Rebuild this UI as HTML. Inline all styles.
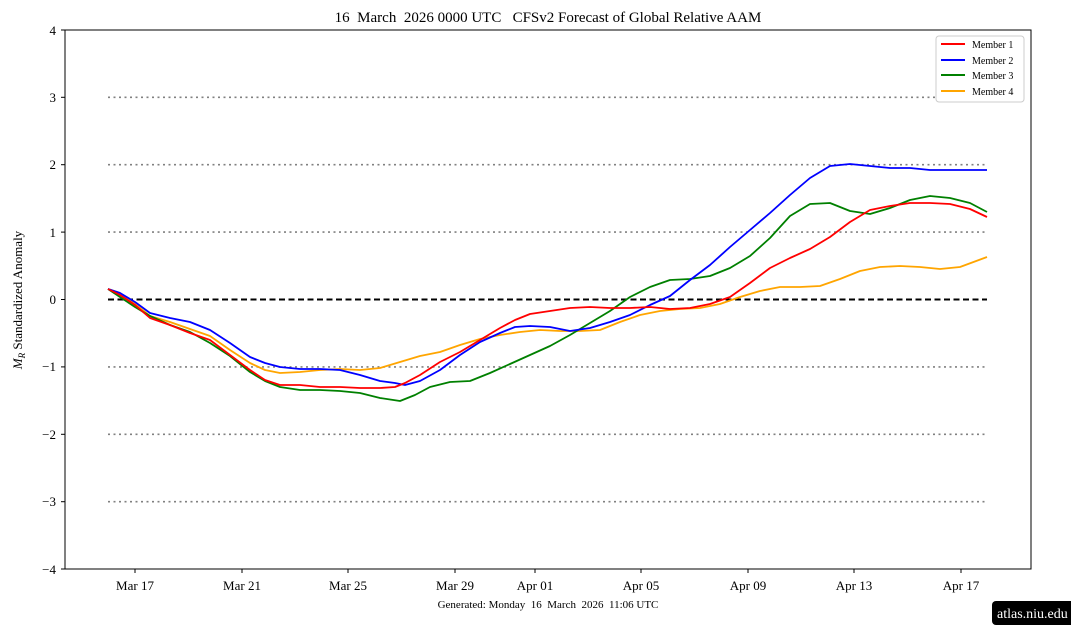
<!DOCTYPE html>
<html><head><meta charset="utf-8"><style>
body{margin:0;background:#fff;width:1071px;height:638px;overflow:hidden}
text{font-family:"Liberation Serif",serif;fill:#000;white-space:pre}
</style></head><body>
<svg width="1071" height="638" xmlns="http://www.w3.org/2000/svg">
<text x="548" y="22" font-size="15" text-anchor="middle">16  March  2026 0000 UTC   CFSv2 Forecast of Global Relative AAM</text>
<g stroke="#808080" stroke-width="1.6" stroke-dasharray="2,3.5">
<line x1="108" x2="987" y1="97.3" y2="97.3"/><line x1="108" x2="987" y1="164.7" y2="164.7"/><line x1="108" x2="987" y1="232.1" y2="232.1"/>
<line x1="108" x2="987" y1="366.9" y2="366.9"/><line x1="108" x2="987" y1="434.3" y2="434.3"/><line x1="108" x2="987" y1="501.7" y2="501.7"/>
</g>
<line x1="108" x2="987" y1="299.5" y2="299.5" stroke="#000" stroke-width="2" stroke-dasharray="6,3.5"/>
<g fill="none" stroke-width="1.8" stroke-linejoin="round">
<polyline stroke="orange" points="108,289 120,293 135,304 150,316 170,322 190,329 210,336 230,350 250,363 265,370 280,373 300,372 320,370 340,369 360,370 380,368 400,362 420,356 440,352 460,345 480,339 500,335 520,332 540,330 560,331 580,331 600,330 620,322 640,315 660,311 680,309 700,308 720,304 740,297 760,291 780,287 800,287 820,286 840,279 860,271 880,267 900,266 920,267 940,269 960,267 987,257"/>
<polyline stroke="green" points="108,289 120,297 135,307 150,316 170,325 190,332 210,343 230,356 250,372 265,381 280,387 300,390 320,390 340,391 360,393 380,398 400,401 415,395 430,387 450,382 470,381 490,373 510,364 530,355 550,346 570,335 590,323 610,311 630,297 650,287 670,280 690,279 710,276 730,268 750,256 770,238 790,216 810,204 830,203 850,211 870,214 890,208 910,200 930,196 950,198 970,203 987,212"/>
<polyline stroke="blue" points="108,289 120,293 135,302 150,313 170,318 190,322 210,330 230,343 250,357 265,363 280,367 300,369 320,369 340,370 360,375 380,381 395,383 405,385 420,381 440,370 460,355 480,342 500,333 515,327 530,326 550,327 570,331 590,328 610,322 630,315 650,305 670,296 690,280 710,265 730,247 750,230 770,213 790,195 810,178 830,166 850,164 870,166 890,168 910,168 930,170 950,170 970,170 987,170"/>
<polyline stroke="red" points="108,289 120,295 135,305 150,318 170,325 190,333 210,340 230,355 250,370 265,380 280,385 300,385 320,387 340,387 360,388 380,388 395,387 405,383 420,375 440,362 460,352 480,340 500,328 515,320 530,314 550,311 570,308 590,307 610,308 630,308 650,307 670,309 690,308 710,304 730,297 750,283 770,268 790,258 810,249 830,237 850,222 870,210 890,206 910,203 930,203 950,204 970,209 987,217"/>
</g>
<rect x="65" y="30" width="966" height="539" fill="none" stroke="#000" stroke-width="1"/>
<g stroke="#000" stroke-width="1">
<line x1="61" x2="65" y1="30" y2="30"/><line x1="61" x2="65" y1="97.3" y2="97.3"/><line x1="61" x2="65" y1="164.7" y2="164.7"/><line x1="61" x2="65" y1="232.1" y2="232.1"/><line x1="61" x2="65" y1="299.5" y2="299.5"/><line x1="61" x2="65" y1="366.9" y2="366.9"/><line x1="61" x2="65" y1="434.3" y2="434.3"/><line x1="61" x2="65" y1="501.7" y2="501.7"/><line x1="61" x2="65" y1="569" y2="569"/>
<line x1="135" x2="135" y1="569" y2="573"/><line x1="242" x2="242" y1="569" y2="573"/><line x1="348" x2="348" y1="569" y2="573"/><line x1="455" x2="455" y1="569" y2="573"/><line x1="535" x2="535" y1="569" y2="573"/><line x1="641" x2="641" y1="569" y2="573"/><line x1="748" x2="748" y1="569" y2="573"/><line x1="854" x2="854" y1="569" y2="573"/><line x1="961" x2="961" y1="569" y2="573"/>
</g>
<g font-size="13" text-anchor="end">
<text x="56" y="35">4</text><text x="56" y="102">3</text><text x="56" y="169">2</text><text x="56" y="237">1</text><text x="56" y="304">0</text><text x="56" y="371">−1</text><text x="56" y="439">−2</text><text x="56" y="506">−3</text><text x="56" y="574">−4</text>
</g>
<g font-size="13" text-anchor="middle">
<text x="135" y="590">Mar 17</text><text x="242" y="590">Mar 21</text><text x="348" y="590">Mar 25</text><text x="455" y="590">Mar 29</text><text x="535" y="590">Apr 01</text><text x="641" y="590">Apr 05</text><text x="748" y="590">Apr 09</text><text x="854" y="590">Apr 13</text><text x="961" y="590">Apr 17</text>
</g>
<text x="548" y="608" font-size="11" text-anchor="middle">Generated: Monday  16  March  2026  11:06 UTC</text>
<text transform="translate(22,300) rotate(-90)" font-size="13" text-anchor="middle"><tspan font-style="italic">M</tspan><tspan font-size="9" font-style="italic" dy="3">R</tspan><tspan dy="-3"> Standardized Anomaly</tspan></text>
<rect x="936" y="36" width="88" height="66" rx="3" fill="#fff" stroke="#ccc"/>
<g stroke-width="2"><line x1="941" x2="965" y1="44" y2="44" stroke="red"/><line x1="941" x2="965" y1="60" y2="60" stroke="blue"/><line x1="941" x2="965" y1="75" y2="75" stroke="green"/><line x1="941" x2="965" y1="91" y2="91" stroke="orange"/></g>
<g font-size="10"><text x="972" y="48">Member 1</text><text x="972" y="64">Member 2</text><text x="972" y="79">Member 3</text><text x="972" y="95">Member 4</text></g>
<rect x="992" y="601" width="90" height="24" rx="4" fill="#000"/>
<text x="997" y="618" font-size="14" style="fill:#fff">atlas.niu.edu</text>
</svg>
</body></html>
